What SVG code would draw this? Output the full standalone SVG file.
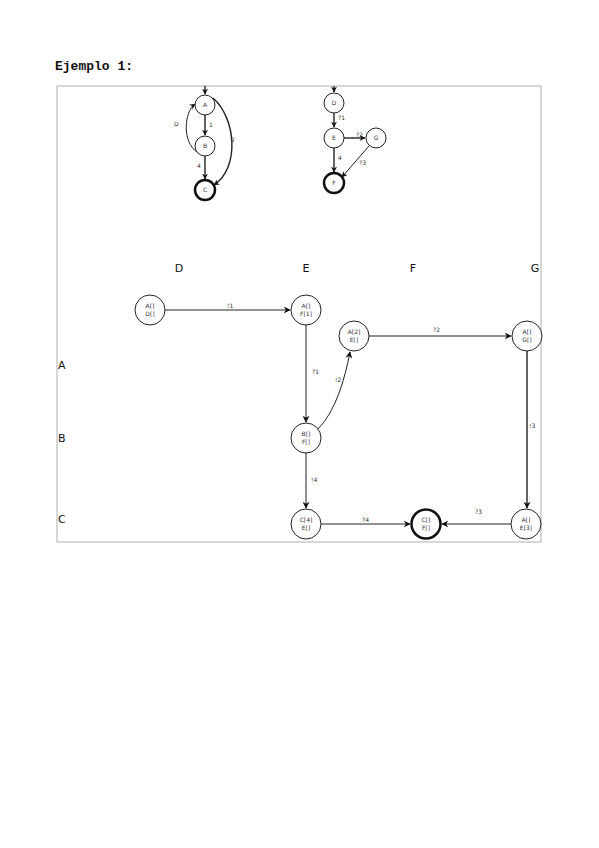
<svg xmlns="http://www.w3.org/2000/svg" width="599" height="848" viewBox="0 0 599 848">
<defs>
<marker id="ah" viewBox="0 0 10 10" refX="9" refY="5" markerWidth="7" markerHeight="7" orient="auto" markerUnits="userSpaceOnUse"><path d="M0,0 L10,5 L0,10 L3,5 z" fill="#111"/></marker>
<marker id="ahs" viewBox="0 0 10 10" refX="9" refY="5" markerWidth="6" markerHeight="6" orient="auto" markerUnits="userSpaceOnUse"><path d="M0,0 L10,5 L0,10 L3,5 z" fill="#111"/></marker>
</defs>
<style>
.n{fill:#fff;stroke:#222;stroke-width:1}
.f{fill:#fff;stroke:#111;stroke-width:2.5}
.e{fill:none;stroke:#222;stroke-width:1}
.es{fill:none;stroke:#222;stroke-width:1.4}
.t{font-family:"DejaVu Sans",sans-serif;font-size:6px;fill:#333;text-anchor:middle}
.l{font-family:"DejaVu Sans",sans-serif;font-size:6px;fill:#333}
.h{font-family:"DejaVu Sans",sans-serif;font-size:11px;fill:#111;text-anchor:middle}
.r{font-family:"DejaVu Sans",sans-serif;font-size:11px;fill:#111}
</style>
<rect width="599" height="848" fill="#fff"/>
<text x="55" y="70" font-family="Liberation Mono, monospace" font-weight="bold" font-size="13" fill="#111">Ejemplo 1:</text>
<rect x="57" y="86" width="484" height="456" fill="none" stroke="#bbb" stroke-width="1.2"/>

<g id="connectors">
<!-- small left graph -->
<line class="es" x1="205" y1="86" x2="205" y2="94" marker-end="url(#ahs)"/>
<line class="es" x1="205" y1="115" x2="205" y2="135" marker-end="url(#ahs)"/>
<path class="e" d="M197,152 C182,142 184,112 195,104" marker-end="url(#ahs)"/>
<path class="es" d="M213,98 C236,118 240,168 214,185" marker-end="url(#ahs)"/>
<line class="es" x1="205" y1="156" x2="205" y2="179" marker-end="url(#ahs)"/>
<text class="l" x="174" y="126">D</text>
<text class="l" x="209" y="127">1</text>
<text class="l" x="231" y="142">2</text>
<text class="l" x="197" y="168">4</text>
<!-- small right graph -->
<line class="es" x1="334" y1="86" x2="334" y2="92" marker-end="url(#ahs)"/>
<line class="es" x1="334" y1="113" x2="334" y2="127" marker-end="url(#ahs)"/>
<line class="es" x1="344" y1="138" x2="365" y2="138" marker-end="url(#ahs)"/>
<line class="es" x1="334" y1="148" x2="334" y2="172" marker-end="url(#ahs)"/>
<line class="e" x1="369" y1="146" x2="342" y2="177" marker-end="url(#ahs)"/>
<text class="l" x="338" y="120">?1</text>
<text class="l" x="356" y="137">?2</text>
<text class="l" x="338" y="160">4</text>
<text class="l" x="359" y="165">?3</text>
<!-- main graph -->
<line class="e" x1="165" y1="310" x2="290" y2="310" marker-end="url(#ah)"/>
<line class="e" x1="306" y1="325" x2="306" y2="422" marker-end="url(#ah)"/>
<path class="e" d="M318,429 C336,411 345,378 350,352" marker-end="url(#ah)"/>
<line class="e" x1="369" y1="336" x2="511" y2="336" marker-end="url(#ah)"/>
<line class="es" x1="527" y1="351" x2="527" y2="508" marker-end="url(#ah)"/>
<line class="e" x1="511" y1="524" x2="442" y2="524" marker-end="url(#ah)"/>
<line class="e" x1="306" y1="453" x2="306" y2="508" marker-end="url(#ah)"/>
<line class="e" x1="321" y1="524" x2="410" y2="524" marker-end="url(#ah)"/>
<text class="l" x="227" y="308">!1</text>
<text class="l" x="312" y="374">?1</text>
<text class="l" x="335" y="382">!2</text>
<text class="l" x="433" y="332">?2</text>
<text class="l" x="529" y="428">!3</text>
<text class="l" x="475" y="514">?3</text>
<text class="l" x="311" y="482">!4</text>
<text class="l" x="362" y="522">?4</text>
</g>

<g id="sA"><circle class="n" cx="205" cy="105" r="10"/><text class="t" x="205" y="107">A</text></g>
<g id="sB"><circle class="n" cx="205" cy="146" r="10"/><text class="t" x="205" y="148">B</text></g>
<g id="sC"><circle class="f" cx="205" cy="190" r="10"/><text class="t" x="205" y="192">C</text></g>
<g id="sD"><circle class="n" cx="334" cy="103" r="10"/><text class="t" x="334" y="105">D</text></g>
<g id="sE"><circle class="n" cx="334" cy="138" r="10"/><text class="t" x="334" y="140">E</text></g>
<g id="sG"><circle class="n" cx="376" cy="138" r="10"/><text class="t" x="376" y="140">G</text></g>
<g id="sF"><circle class="f" cx="334" cy="183" r="10"/><text class="t" x="334" y="185">F</text></g>

<g id="headers">
<text class="h" x="179" y="272">D</text>
<text class="h" x="306" y="272">E</text>
<text class="h" x="413" y="272">F</text>
<text class="h" x="535" y="272">G</text>
<text class="r" x="58" y="369">A</text>
<text class="r" x="58" y="442">B</text>
<text class="r" x="58" y="523">C</text>
</g>

<g id="nAD"><circle class="n" cx="150" cy="310" r="15"/><text class="t" x="150" y="308">A[]</text><text class="t" x="150" y="316">D[]</text></g>
<g id="nAF"><circle class="n" cx="306" cy="310" r="15"/><text class="t" x="306" y="308">A[]</text><text class="t" x="306" y="316">F[1]</text></g>
<g id="nAE2"><circle class="n" cx="354" cy="336" r="15"/><text class="t" x="354" y="334">A[2]</text><text class="t" x="354" y="342">E[]</text></g>
<g id="nAG"><circle class="n" cx="527" cy="336" r="15"/><text class="t" x="527" y="334">A[]</text><text class="t" x="527" y="342">G[]</text></g>
<g id="nBF"><circle class="n" cx="306" cy="438" r="15"/><text class="t" x="306" y="436">B[]</text><text class="t" x="306" y="444">F[]</text></g>
<g id="nCE"><circle class="n" cx="306" cy="524" r="15"/><text class="t" x="306" y="522">C[4]</text><text class="t" x="306" y="530">E[]</text></g>
<g id="nCF"><circle class="f" cx="426" cy="524" r="14.5"/><text class="t" x="426" y="522">C[]</text><text class="t" x="426" y="530">F[]</text></g>
<g id="nAE3"><circle class="n" cx="526" cy="524" r="15"/><text class="t" x="526" y="522">A[]</text><text class="t" x="526" y="530">E[3]</text></g>
</svg>
